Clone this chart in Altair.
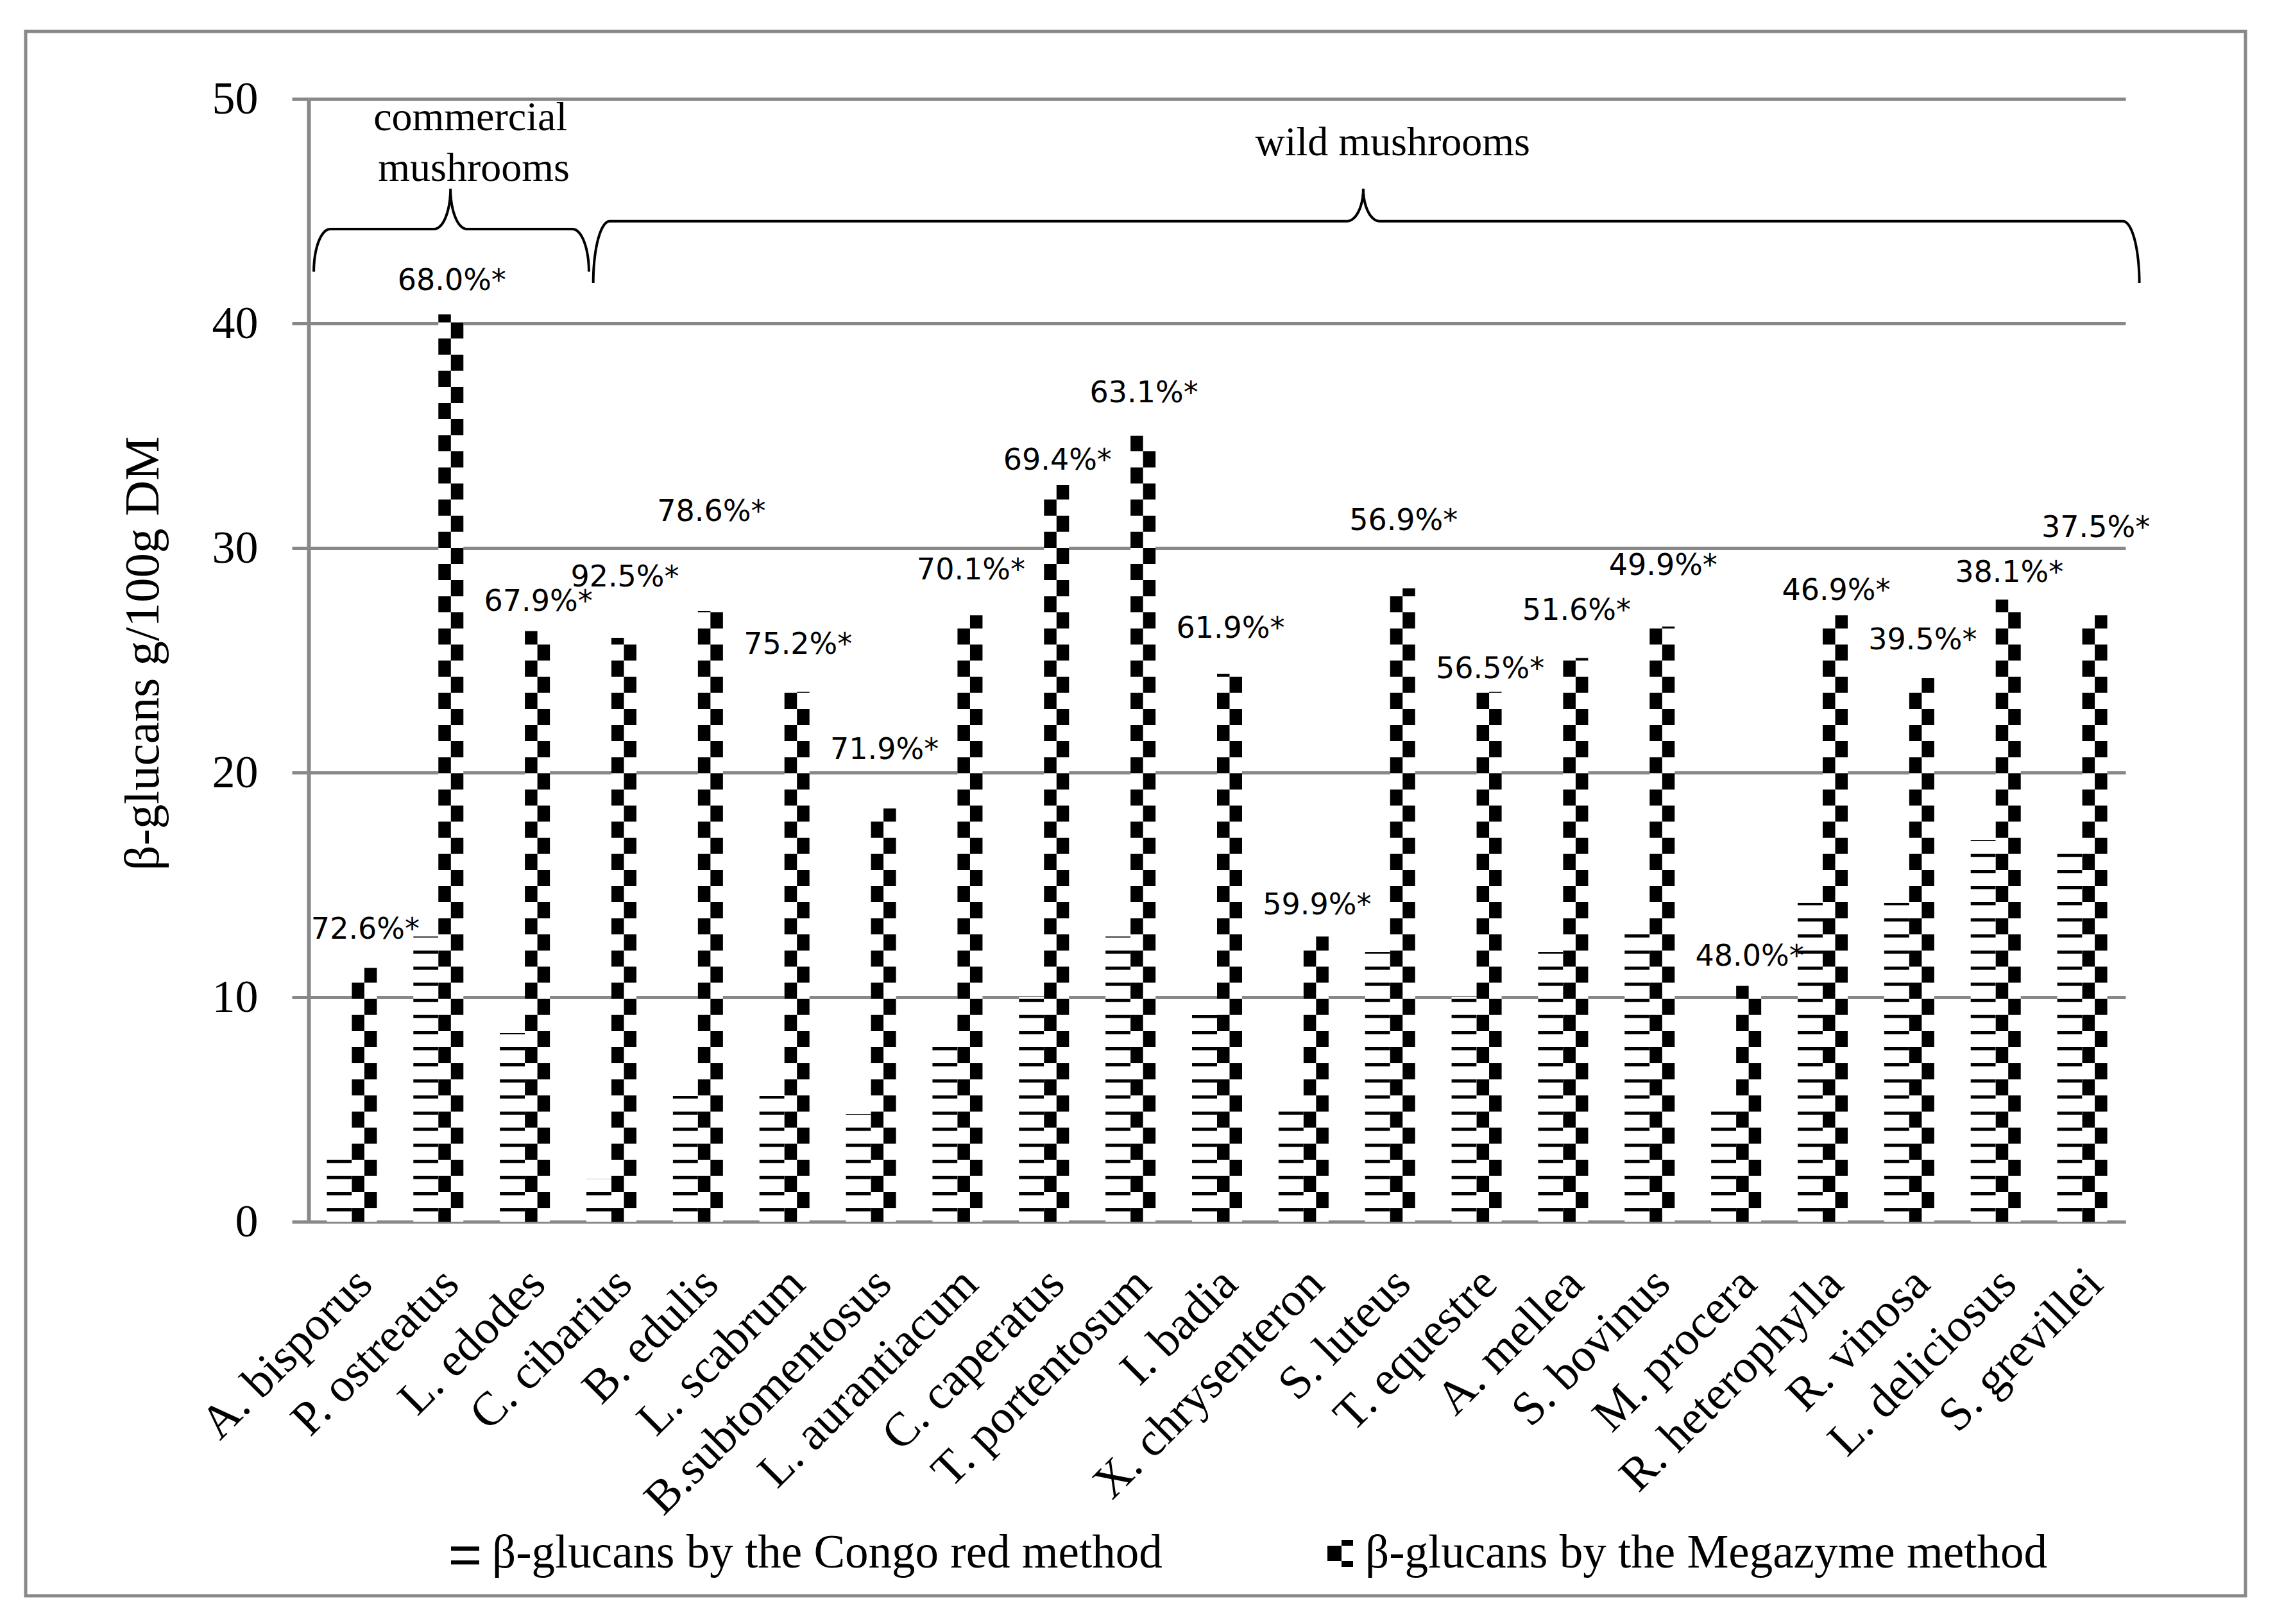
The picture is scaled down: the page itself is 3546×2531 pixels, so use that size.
import altair as alt
import pandas as pd
import numpy as np

# ---------------- data ----------------
species = ["A. bisporus", "P. ostreatus", "L. edodes", "C. cibarius", "B. edulis", "L. scabrum",
           "B.subtomentosus", "L. aurantiacum", "C. caperatus", "T. portentosum", "I. badia",
           "X.  chrysenteron", "S. luteus", "T. equestre", "A. mellea", "S. bovinus", "M. procera",
           "R. heterophylla", "R. vinosa", "L. deliciosus", "S. grevillei"]
congo = [2.75, 12.7, 8.4, 1.9, 5.6, 5.6, 4.8, 7.8, 10.0, 12.7, 9.2,
         4.9, 12.0, 10.0, 12.0, 13.3, 5.4, 14.2, 14.2, 17.0, 16.9]
megazyme = [11.3, 40.4, 26.3, 26.0, 27.2, 23.6, 18.4, 27.0, 32.8, 35.0, 24.4,
            12.7, 28.2, 23.6, 25.1, 26.5, 10.5, 27.0, 24.2, 27.7, 27.0]
pct_labels = ["72.6%*", "68.0%*", "67.9%*", "92.5%*", "78.6%*", "75.2%*", "71.9%*", "70.1%*",
              "69.4%*", "63.1%*", "61.9%*", "59.9%*", "56.9%*", "56.5%*", "51.6%*", "49.9%*",
              "48.0%*", "46.9%*", "39.5%*", "38.1%*", "37.5%*"]
pct_label_y = [13.0, 41.9, 27.6, 28.7, 31.6, 25.7, 21.0, 29.0, 33.9, 36.9, 26.4,
               14.1, 31.2, 24.6, 27.2, 29.2, 11.8, 28.1, 25.9, 28.9, 30.9]

# brace annotations: (start, end, middle) in category units, (end, flat, peak) in y units
brace_commercial = dict(xa=0.06, xb=3.24, xm=1.64, y_end=42.3, y_flat=44.2, y_peak=46.0)
brace_wild = dict(xa=3.29, xb=21.16, xm=12.19, y_end=41.8, y_flat=44.55, y_peak=46.0)
group_texts = ["commercial", "mushrooms", "wild mushrooms"]
group_text_x = [1.87, 1.91, 12.53]
group_text_y = [48.6, 46.35, 47.5]

legend_texts = ["β-glucans by the Congo red method", "β-glucans by the Megazyme method"]
y_ticks = [0, 10, 20, 30, 40, 50]

# ---------------- layout ----------------
W, H = 2832, 1750
step = W / len(species)
BAR = 39.0
pos_c = 0.5 - (BAR / 2) / step
pos_m = 0.5 + (BAR / 2) / step
pos_m1 = 0.5 + (BAR / 4) / step
pos_m2 = 0.5 + (3 * BAR / 4) / step
PERIOD = 25.1

df = pd.DataFrame({
    "species": species,
    "congo": congo,
    "megazyme": megazyme,
    "label": pct_labels,
    "label_y": pct_label_y,
    "zero": [0.0] * len(species),
})


def brace_points(name, xa, xb, xm, y_end, y_flat, y_peak, r=0.19, n=24):
    t = np.linspace(0, np.pi / 2, n)
    pts = []
    pts += list(zip(xa + r - r * np.cos(t), y_end + (y_flat - y_end) * np.sin(t)))
    pts += list(zip(xm - r + r * np.sin(t), y_peak - (y_peak - y_flat) * np.cos(t)))
    pts += list(zip(xm + r - r * np.cos(t), y_flat + (y_peak - y_flat) * (1 - np.sin(t))))[1:]
    pts += list(zip(xb - r + r * np.sin(t), y_flat - (y_flat - y_end) * (1 - np.cos(t))))
    return pd.DataFrame({"bx": [p[0] for p in pts], "by": [p[1] for p in pts],
                         "i": range(len(pts)), "brace": name})


braces = pd.concat([brace_points("commercial", **brace_commercial),
                    brace_points("wild", **brace_wild)], ignore_index=True)
gtext = pd.DataFrame({"t": group_texts, "gx": group_text_x, "gy": group_text_y})

GRAY = "#888888"
SERIF = "Liberation Serif"

yscale = alt.Scale(domain=[0, 50], nice=False, zero=True)
yaxis = alt.Axis(values=y_ticks, grid=True, gridColor=GRAY, gridWidth=5,
                 domainColor=GRAY, domainWidth=6, tickColor=GRAY, tickWidth=5, tickSize=26,
                 labelFont=SERIF, labelFontSize=72, labelColor="black", labelPadding=53,
                 title="β-glucans g/100g DM", titleFont=SERIF, titleFontSize=77,
                 titleFontWeight="normal", titleColor="black", titleX=-258, titleY=864,
                 titleAngle=270, titleAlign="center", titleBaseline="middle")
xaxis = alt.Axis(orient="bottom", title=None, ticks=False, grid=False, domainColor=GRAY,
                 domainWidth=5, labelFont=SERIF, labelFontSize=74, labelColor="black",
                 labelAngle=-45, labelAlign="right", labelBaseline="middle", labelPadding=85,
                 labelOffset=20, labelLimit=2000)
xscale = alt.Scale(domain=species, paddingInner=0, paddingOuter=0)


def X(pos, axis=None):
    return alt.X("species:N", sort=species, scale=xscale, axis=axis, bandPosition=pos)


def Yf(field):
    return alt.Y(field, type="quantitative", scale=yscale, axis=yaxis)


base = alt.Chart(df)

white_c = base.mark_rule(color="white", strokeWidth=BAR).encode(
    x=X(pos_c, xaxis), y=Yf("zero"), y2="congo:Q")
stripes = base.mark_rule(color="black", strokeWidth=BAR, strokeDash=[5, PERIOD - 5],
                         strokeDashOffset=PERIOD - 16).encode(x=X(pos_c), y=Yf("zero"), y2="congo:Q")
white_m = base.mark_rule(color="white", strokeWidth=BAR).encode(x=X(pos_m), y=Yf("zero"), y2="megazyme:Q")
check_a = base.mark_rule(color="black", strokeWidth=BAR / 2, strokeDash=[PERIOD, PERIOD],
                         strokeDashOffset=PERIOD - 21).encode(x=X(pos_m1), y=Yf("zero"), y2="megazyme:Q")
check_b = base.mark_rule(color="black", strokeWidth=BAR / 2, strokeDash=[PERIOD, PERIOD],
                         strokeDashOffset=2 * PERIOD - 21).encode(x=X(pos_m2), y=Yf("zero"), y2="megazyme:Q")
pct = base.mark_text(font="DejaVu Sans", fontSize=46, color="black", baseline="middle",
                     align="center", dx=21).encode(x=X(0.5), y=Yf("label_y"), text="label:N")

qx = alt.Scale(domain=[0, len(species)], nice=False, zero=False)
brace_layer = alt.Chart(braces).mark_line(color="black", strokeWidth=4, interpolate="linear").encode(
    x=alt.X("bx:Q", scale=qx, axis=None),
    y=Yf("by"),
    order="i:Q",
    detail="brace:N",
)
gtext_layer = alt.Chart(gtext).mark_text(font=SERIF, fontSize=64, color="black",
                                         baseline="alphabetic", align="center").encode(
    x=alt.X("gx:Q", scale=qx, axis=None),
    y=Yf("gy"),
    text="t:N",
)

one = pd.DataFrame({"k": [0]})
frame = alt.Chart(one).mark_rect(fillOpacity=0, stroke=GRAY, strokeWidth=5).encode(
    x=alt.value(-441), x2=alt.value(3019), y=alt.value(-105), y2=alt.value(2333))

leg_c1 = alt.Chart(one).mark_rule(color="black", strokeWidth=6.5).encode(
    x=alt.value(222), x2=alt.value(266), y=alt.value(2259.5))
leg_c2 = alt.Chart(one).mark_rule(color="black", strokeWidth=6.5).encode(
    x=alt.value(222), x2=alt.value(266), y=alt.value(2281))
leg_m1 = alt.Chart(one).mark_rule(color="black", strokeWidth=22).encode(
    x=alt.value(1599), y=alt.value(2255), y2=alt.value(2279))
leg_m2 = alt.Chart(one).mark_rule(color="black", strokeWidth=18).encode(
    x=alt.value(1619), y=alt.value(2246), y2=alt.value(2255))
leg_m3 = alt.Chart(one).mark_rule(color="black", strokeWidth=18).encode(
    x=alt.value(1619), y=alt.value(2279), y2=alt.value(2288))
leg_t1 = alt.Chart(one).mark_text(font=SERIF, fontSize=73, color="black", align="left",
                                  baseline="alphabetic", text=legend_texts[0]).encode(
    x=alt.value(286), y=alt.value(2289))
leg_t2 = alt.Chart(one).mark_text(font=SERIF, fontSize=73, color="black", align="left",
                                  baseline="alphabetic", text=legend_texts[1]).encode(
    x=alt.value(1647), y=alt.value(2289))

chart = alt.layer(
    white_c, stripes, white_m, check_a, check_b, pct,
    brace_layer, gtext_layer, frame, leg_c1, leg_c2, leg_m1, leg_m2, leg_m3, leg_t1, leg_t2,
).resolve_scale(x="independent").properties(
    width=W, height=H,
    autosize=alt.AutoSizeParams(type="none"),
    padding={"left": 473, "top": 146, "right": 220, "bottom": 615},
    background="white",
).configure_view(stroke=None)

chart.save("out.html", embed_options={"renderer": "svg", "actions": False})
